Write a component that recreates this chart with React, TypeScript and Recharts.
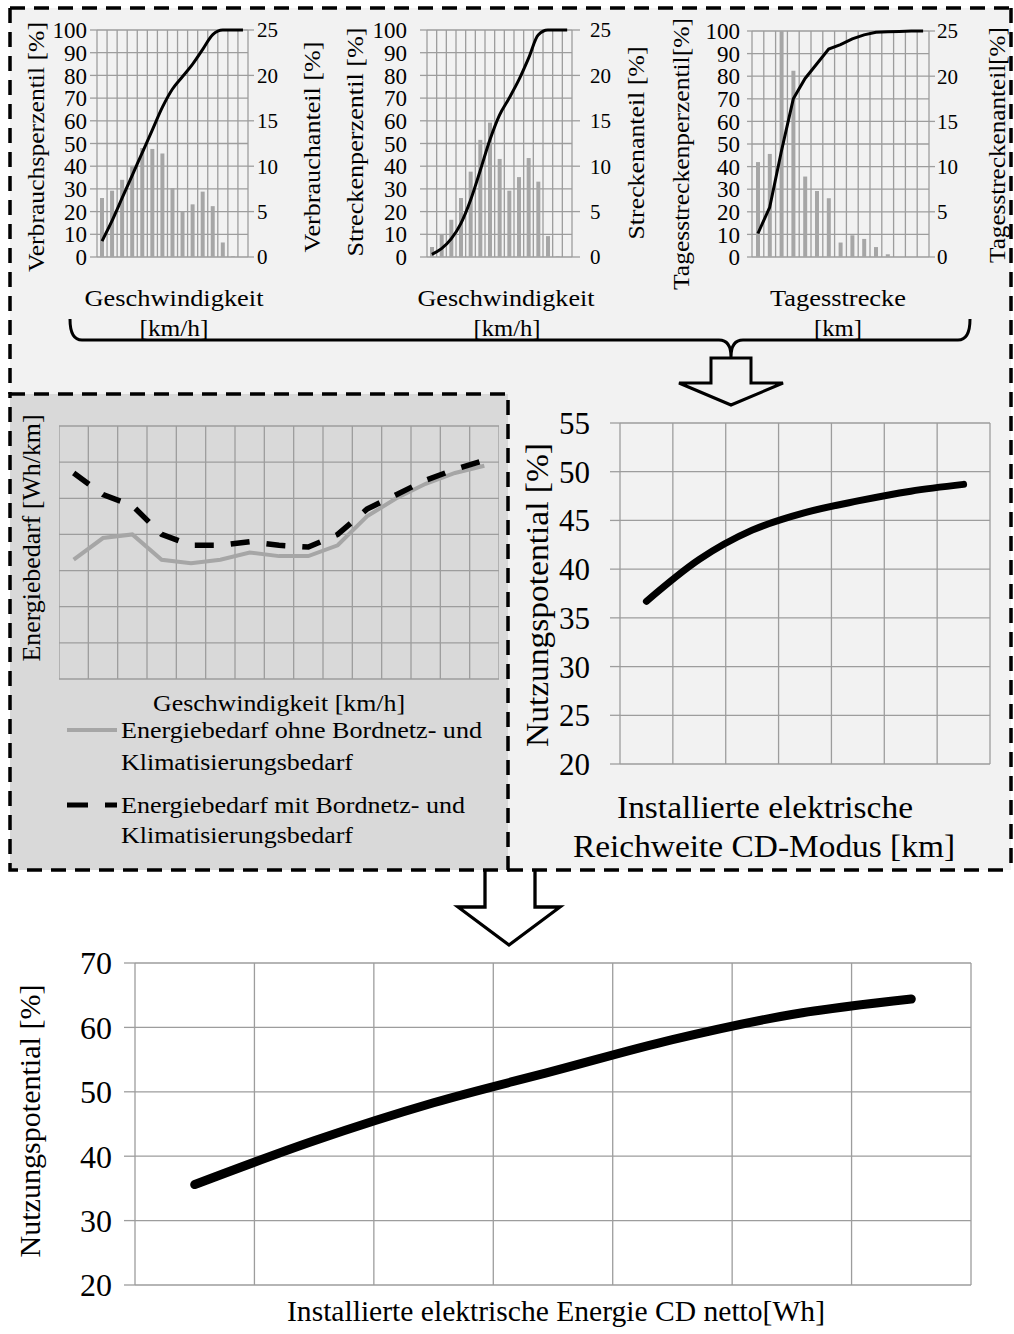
import React from 'react';
import { ComposedChart, Bar, Line, XAxis, YAxis, CartesianGrid } from 'recharts';

const FONT = '"Liberation Serif", "Times New Roman", serif';
const GRID = '#9d9d9d';
const BAR = '#a6a6a6';

// ---- data ----
const speedBins = ['0-10', '10-20', '20-30', '30-40', '40-50', '50-60', '60-70', '70-80', '80-90', '90-100', '100-110', '110-120', '120-130', '130-140', '140-150'];
const dayBins = ['0-20', '20-40', '40-60', '60-80', '80-100', '100-120', '120-140', '140-160', '160-180', '180-200', '200-220', '220-240', '240-260', '260-280', '280-300'];

// Verbrauch
const consumptionShare = [6.5, 7.3, 8.5, 10.0, 12.0, 11.9, 11.4, 7.6, 5.0, 5.8, 7.2, 5.6, 1.6, 0.1, 0];
const consumptionPercentile = [7, 16, 26, 36, 46, 56, 66, 74, 79.5, 85, 91.5, 98, 100, 100, 100];
// Strecke
const distanceShare = [1.1, 2.5, 4.1, 6.5, 9.4, 12.9, 14.8, 10.8, 7.3, 8.8, 10.9, 8.3, 2.3, 0.1, 0];
const distancePercentile = [1.2, 3.7, 8, 14.7, 25, 38, 51.5, 62.5, 70, 78, 87.5, 97.8, 100, 100, 100];
// Tagesstrecke
const dayShare = [10.5, 11.4, 25, 20.6, 8.9, 7.3, 6.5, 1.6, 2.4, 2.0, 1.1, 0.3, 0, 0, 0];
const dayPercentile = [10.4, 22, 47, 70, 79, 85.5, 92, 94, 96.5, 98.3, 99.4, 99.7, 99.8, 100, 100];

// Energiebedarf über Geschwindigkeit (relative units)
const energyWithout = [33, 39, 40, 33, 32, 33, 35, 34, 34, 37, 45, 50, 54, 57, 59];
const energyWith = [57, 51, 48, 40, 37, 37, 38, 37, 36.5, 40, 47, 51, 55, 58, 60.5];

// Nutzungspotential über Reichweite
const rangeCats = ['10', '20', '30', '40', '50', '60', '70'];
const potentialByRange = [36.7, 41.0, 44.0, 45.8, 47.0, 48.0, 48.7];

// Nutzungspotential über Energie
const energyCats = ['1000', '2000', '3000', '4000', '5000', '6000', '7000'];
const potentialByEnergy = [35.6, 42.4, 48.3, 53.2, 58.1, 62.0, 64.4];

const pctTicks = [0, 10, 20, 30, 40, 50, 60, 70, 80, 90, 100];
const shareTicks = [0, 5, 10, 15, 20, 25];
const rangeTicks = [20, 25, 30, 35, 40, 45, 50, 55];
const energyTicks = [20, 30, 40, 50, 60, 70];

const cellLines = (n: number) => ({ offset }: any) =>
  Array.from({ length: n + 1 }, (_, i) => offset.left + (i * offset.width) / n);
const rowLines = (n: number) => ({ offset }: any) =>
  Array.from({ length: n + 1 }, (_, i) => offset.top + (i * offset.height) / n);

type TopProps = {
  x: number; y: number; w: number; h: number;
  lTick: number; lGap: number; rTick: number; rGap: number;
  cats: string[]; bars: number[]; line: number[];
  curve: 'monotone' | 'linear';
};

function TopChart(p: TopProps) {
  const m = 14, la = 60, ra = 45;
  const n = p.cats.length;
  const data = p.cats.map((c, i) => ({ c, share: p.bars[i], pct: p.line[i] }));
  return (
    <div style={{ position: 'absolute', left: p.x - la, top: p.y - m }}>
      <ComposedChart width={la + p.w + ra} height={p.h + 2 * m} data={data}
        margin={{ top: m, bottom: m, left: 0, right: 0 }} style={{ fontFamily: FONT }}>
        <CartesianGrid yAxisId="pct" stroke={GRID} strokeWidth={1.3}
          verticalCoordinatesGenerator={cellLines(n)} />
        <XAxis dataKey="c" hide scale="band" />
        <YAxis yAxisId="pct" domain={[0, 100]} ticks={pctTicks} interval={0} width={la}
          tickSize={p.lTick} tickMargin={p.lGap} axisLine={false}
          tickLine={{ stroke: GRID, strokeWidth: 1.3 }}
          tick={{ fill: '#000', fontSize: 23, fontFamily: FONT }} />
        <YAxis yAxisId="share" orientation="right" domain={[0, 25]} ticks={shareTicks} interval={0} width={ra}
          tickSize={p.rTick} tickMargin={p.rGap} axisLine={false}
          tickLine={{ stroke: GRID, strokeWidth: 1.3 }}
          tick={{ fill: '#000', fontSize: 21, fontFamily: FONT }} />
        <Bar yAxisId="share" dataKey="share" fill={BAR} barSize={4} isAnimationActive={false} />
        <Line yAxisId="pct" dataKey="pct" type={p.curve} stroke="#000" strokeWidth={3}
          dot={false} isAnimationActive={false} />
      </ComposedChart>
    </div>
  );
}

function EnergyChart() {
  const data = speedBins.map((c, i) => ({ c, ohne: energyWithout[i], mit: energyWith[i] }));
  return (
    <div style={{ position: 'absolute', left: 59, top: 422 }}>
      <ComposedChart width={440} height={261} data={data} margin={{ top: 4, bottom: 4, left: 0, right: 0 }}>
        <CartesianGrid stroke={GRID} strokeWidth={1.3}
          verticalCoordinatesGenerator={cellLines(15)} horizontalCoordinatesGenerator={rowLines(7)} />
        <XAxis dataKey="c" hide scale="band" />
        <YAxis hide domain={[0, 70]} />
        <Line dataKey="ohne" type="linear" stroke={BAR} strokeWidth={4} dot={false} isAnimationActive={false} />
        <Line dataKey="mit" type="linear" stroke="#000" strokeWidth={5.5} strokeDasharray="19 17"
          dot={false} isAnimationActive={false} />
      </ComposedChart>
    </div>
  );
}

function RangeChart() {
  const data = rangeCats.map((c, i) => ({ c, v: potentialByRange[i] }));
  return (
    <div style={{ position: 'absolute', left: 540, top: 405 }}>
      <ComposedChart width={460} height={377} data={data} margin={{ top: 18, bottom: 18, left: 0, right: 10 }}
        style={{ fontFamily: FONT }}>
        <CartesianGrid stroke={GRID} strokeWidth={1.3} verticalCoordinatesGenerator={cellLines(7)} />
        <XAxis dataKey="c" hide scale="band" />
        <YAxis domain={[20, 55]} ticks={rangeTicks} interval={0} width={80} tickSize={10} tickMargin={20}
          axisLine={false} tickLine={{ stroke: GRID, strokeWidth: 1.3 }}
          tick={{ fill: '#000', fontSize: 31, fontFamily: FONT }} />
        <Line dataKey="v" type="monotone" stroke="#000" strokeWidth={7} strokeLinecap="round"
          dot={false} isAnimationActive={false} />
      </ComposedChart>
    </div>
  );
}

function EnergyPotentialChart() {
  const data = energyCats.map((c, i) => ({ c, v: potentialByEnergy[i] }));
  return (
    <div style={{ position: 'absolute', left: 55, top: 943 }}>
      <ComposedChart width={926} height={362} data={data} margin={{ top: 20, bottom: 20, left: 0, right: 10 }}
        style={{ fontFamily: FONT }}>
        <CartesianGrid stroke={GRID} strokeWidth={1.3} verticalCoordinatesGenerator={cellLines(7)} />
        <XAxis dataKey="c" hide scale="band" />
        <YAxis domain={[20, 70]} ticks={energyTicks} interval={0} width={80} tickSize={11} tickMargin={12}
          axisLine={false} tickLine={{ stroke: GRID, strokeWidth: 1.3 }}
          tick={{ fill: '#000', fontSize: 32, fontFamily: FONT }} />
        <Line dataKey="v" type="monotone" stroke="#000" strokeWidth={9} strokeLinecap="round"
          dot={false} isAnimationActive={false} />
      </ComposedChart>
    </div>
  );
}

function T({ x, y, size, len, rot, anchor = 'middle', children }: any) {
  return (
    <text x={x} y={y} fontSize={size} fontFamily={FONT} fill="#000" textAnchor={anchor}
      dominantBaseline="central" textLength={len} lengthAdjust={len ? 'spacingAndGlyphs' : undefined}
      transform={rot ? `rotate(${rot} ${x} ${y})` : undefined}>
      {children}
    </text>
  );
}

const DASH = { stroke: '#000', strokeWidth: 3.5, strokeDasharray: '15 9', fill: 'none' };

export default function App() {
  return (
    <div style={{ position: 'absolute', left: 0, top: 0, width: 1014, height: 1334, background: '#fff', overflow: 'hidden', fontFamily: FONT }}>
      <svg width={1014} height={1334} style={{ position: 'absolute', left: 0, top: 0 }}>
        <rect x={10} y={8} width={1001} height={862} fill="#f2f2f2" />
        <rect x={10} y={394} width={498} height={476} fill="#d9d9d9" />
      </svg>

      <TopChart x={97} y={30} w={151} h={227} lTick={7} lGap={3} rTick={6} rGap={3}
        cats={speedBins} bars={consumptionShare} line={consumptionPercentile} curve="monotone" />
      <TopChart x={427} y={30} w={145} h={227} lTick={7} lGap={13} rTick={8} rGap={10}
        cats={speedBins} bars={distanceShare} line={distancePercentile} curve="monotone" />
      <TopChart x={752} y={31} w={177} h={226} lTick={5} lGap={7} rTick={6} rGap={2}
        cats={dayBins} bars={dayShare} line={dayPercentile} curve="linear" />

      <EnergyChart />
      <RangeChart />
      <EnergyPotentialChart />

      <svg width={1014} height={1334} style={{ position: 'absolute', left: 0, top: 0, pointerEvents: 'none' }}>
        {/* brace + arrows */}
        <path d="M70,319 Q70,340 82,340 L719,340 Q731,340 731,357 Q731,340 743,340 L958,340 Q970,340 970,319"
          stroke="#000" strokeWidth={3} fill="none" />
        <polygon points="711,358 751,358 751,383 783,383 731,405 679,383 711,383"
          fill="#f2f2f2" stroke="#000" strokeWidth={3} />
        <polygon points="485,870 535,870 535,907 560,907 509,945 458,907 485,907" fill="#fff" />
        <polyline points="535,870 535,907 560,907 509,945 458,907 485,907 485,870"
          fill="none" stroke="#000" strokeWidth={3.3} />

        {/* dashed frames */}
        <path d="M10,8 H1011 M1011,8 V870 M508,870 H1011 M10,8 V394" {...DASH} />
        <rect x={10} y={394} width={498} height={476} {...DASH} />

        {/* top charts */}
        <T x={36} y={147} size={23} len={250} rot={-90}>Verbrauchsperzentil [%]</T>
        <T x={312} y={147} size={23} len={211} rot={-90}>Verbrauchanteil [%]</T>
        <T x={355} y={142} size={23} len={229} rot={-90}>Streckenperzentil [%]</T>
        <T x={636} y={143} size={23} len={193} rot={-90}>Streckenanteil [%]</T>
        <T x={681} y={154} size={23} len={272} rot={-90}>Tagesstreckenperzentil[%]</T>
        <T x={997} y={145} size={23} len={236} rot={-90}>Tagesstreckenanteil[%]</T>
        <T x={174} y={298} size={23} len={179}>Geschwindigkeit</T>
        <T x={174} y={328} size={23} len={69}>[km/h]</T>
        <T x={506} y={298} size={23} len={177}>Geschwindigkeit</T>
        <T x={507} y={328} size={23} len={67}>[km/h]</T>
        <T x={838} y={298} size={23} len={136}>Tagesstrecke</T>
        <T x={838} y={328} size={23} len={48}>[km]</T>

        {/* energy chart */}
        <T x={31} y={538} size={25} len={247} rot={-90}>Energiebedarf [Wh/km]</T>
        <T x={279} y={703} size={23} len={252}>Geschwindigkeit [km/h]</T>
        <line x1={67} y1={730} x2={117} y2={730} stroke={BAR} strokeWidth={4} />
        <T x={121} y={730} size={24} len={361} anchor="start">Energiebedarf ohne Bordnetz- und</T>
        <T x={121} y={762} size={24} len={232} anchor="start">Klimatisierungsbedarf</T>
        <line x1={67} y1={805} x2={117} y2={805} stroke="#000" strokeWidth={5} strokeDasharray="21 17" />
        <T x={121} y={805} size={24} len={344} anchor="start">Energiebedarf mit Bordnetz- und</T>
        <T x={121} y={835} size={24} len={232} anchor="start">Klimatisierungsbedarf</T>

        {/* range chart */}
        <T x={537} y={595} size={31} len={304} rot={-90}>Nutzungspotential [%]</T>
        <T x={765} y={807} size={31} len={296}>Installierte elektrische</T>
        <T x={764} y={846} size={31} len={382}>Reichweite CD-Modus [km]</T>

        {/* bottom chart */}
        <T x={30} y={1121} size={29} len={273} rot={-90}>Nutzungspotential [%]</T>
        <T x={556} y={1311} size={29} len={538}>Installierte elektrische Energie CD netto[Wh]</T>
      </svg>
    </div>
  );
}
